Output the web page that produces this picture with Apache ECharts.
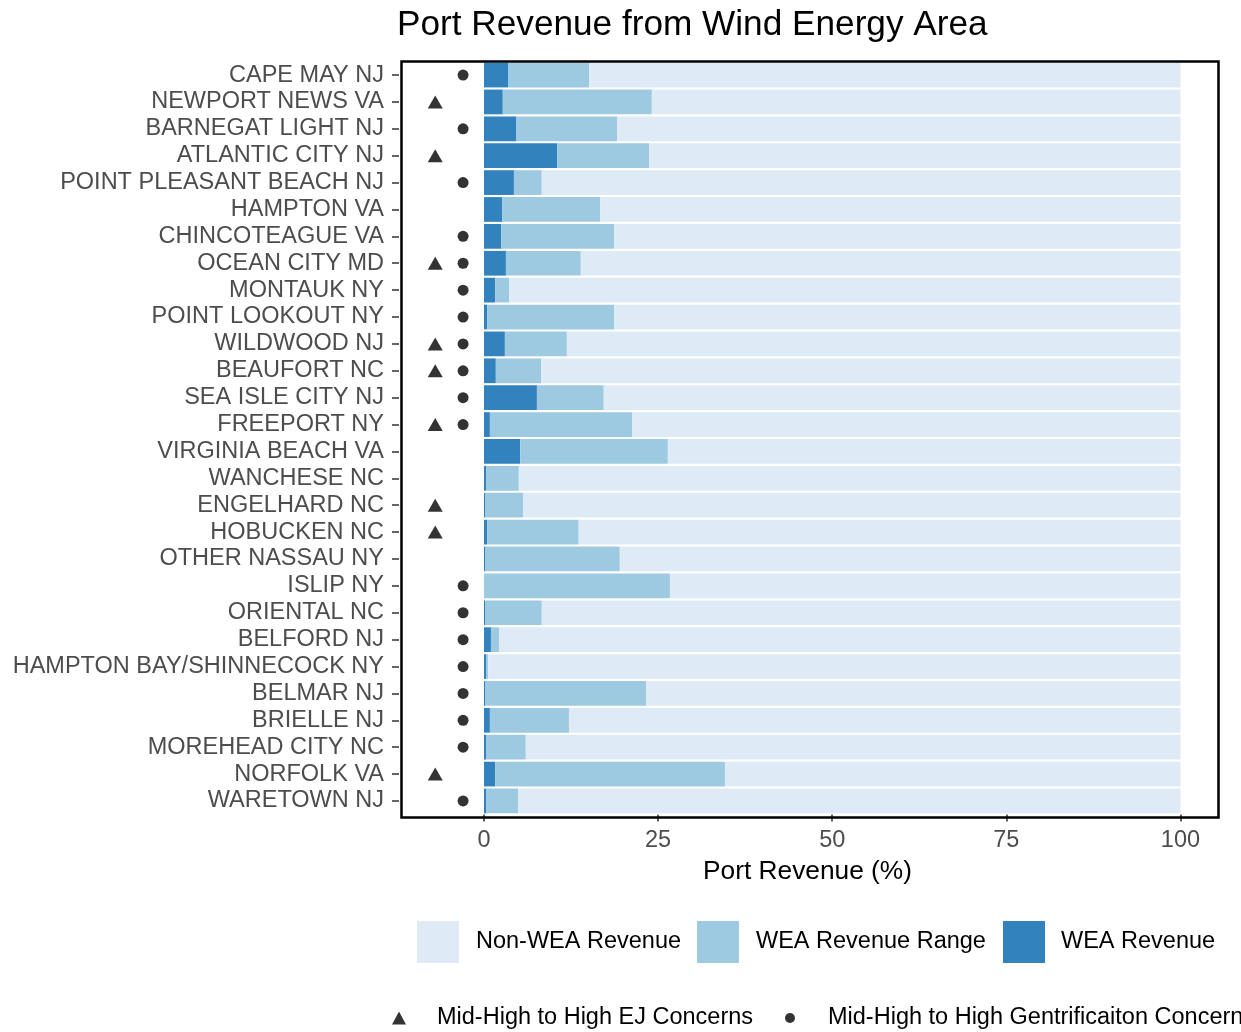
<!DOCTYPE html>
<html>
<head>
<meta charset="utf-8">
<title>Port Revenue from Wind Energy Area</title>
<script src="https://cdn.jsdelivr.net/npm/echarts@6/dist/echarts.min.js"></script>
<style>
  html, body { margin: 0; padding: 0; background: #ffffff; }
  #chart { width: 1241px; height: 1032px; }
</style>
</head>
<body>
<div id="chart"></div>
<script>
// Ports, listed top to bottom
const ports = [
  'CAPE MAY NJ', 'NEWPORT NEWS VA', 'BARNEGAT LIGHT NJ', 'ATLANTIC CITY NJ',
  'POINT PLEASANT BEACH NJ', 'HAMPTON VA', 'CHINCOTEAGUE VA', 'OCEAN CITY MD',
  'MONTAUK NY', 'POINT LOOKOUT NY', 'WILDWOOD NJ', 'BEAUFORT NC',
  'SEA ISLE CITY NJ', 'FREEPORT NY', 'VIRGINIA BEACH VA', 'WANCHESE NC',
  'ENGELHARD NC', 'HOBUCKEN NC', 'OTHER NASSAU NY', 'ISLIP NY',
  'ORIENTAL NC', 'BELFORD NJ', 'HAMPTON BAY/SHINNECOCK NY', 'BELMAR NJ',
  'BRIELLE NJ', 'MOREHEAD CITY NC', 'NORFOLK VA', 'WARETOWN NJ'
];

// WEA revenue share (%) per port
const weaRevenue = [
  3.45, 2.7, 4.6, 10.5,
  4.3, 2.6, 2.45, 3.15,
  1.6, 0.45, 3.0, 1.7,
  7.6, 0.85, 5.2, 0.3,
  0.15, 0.45, 0.15, 0,
  0.15, 1.0, 0.3, 0.15,
  0.85, 0.3, 1.6, 0.3
];

// Upper end of the WEA revenue range (%) per port
const weaRangeHigh = [
  15.1, 24.1, 19.1, 23.7,
  8.3, 16.7, 18.7, 13.9,
  3.6, 18.7, 11.9, 8.2,
  17.2, 21.3, 26.4, 5.0,
  5.6, 13.6, 19.5, 26.7,
  8.3, 2.2, 0.6, 23.3,
  12.2, 6.0, 34.6, 4.9
];

// Ports flagged for community concerns
const ejConcern = [
  'NEWPORT NEWS VA', 'ATLANTIC CITY NJ', 'OCEAN CITY MD', 'WILDWOOD NJ',
  'BEAUFORT NC', 'FREEPORT NY', 'ENGELHARD NC', 'HOBUCKEN NC', 'NORFOLK VA'
];
const gentrificationConcern = [
  'CAPE MAY NJ', 'BARNEGAT LIGHT NJ', 'POINT PLEASANT BEACH NJ', 'CHINCOTEAGUE VA',
  'OCEAN CITY MD', 'MONTAUK NY', 'POINT LOOKOUT NY', 'WILDWOOD NJ', 'BEAUFORT NC',
  'SEA ISLE CITY NJ', 'FREEPORT NY', 'ISLIP NY', 'ORIENTAL NC', 'BELFORD NJ',
  'HAMPTON BAY/SHINNECOCK NY', 'BELMAR NJ', 'BRIELLE NJ', 'MOREHEAD CITY NC',
  'WARETOWN NJ'
];

const xTicks = [0, 25, 50, 75, 100];

// Column positions for the concern markers, left of the bars
const EJ_X = -7;
const GENT_X = -3;

const rangePart = weaRangeHigh.map((v, i) => +(v - weaRevenue[i]).toFixed(2));
const nonWeaPart = weaRangeHigh.map(v => +(100 - v).toFixed(2));

const FONT = '"Liberation Sans", Arial, sans-serif';
const C_DARK = '#3182BD', C_MID = '#9ECAE1', C_LIGHT = '#DEEBF7';

const chart = echarts.init(document.getElementById('chart'), null, { renderer: 'canvas' });

const legendText = { fontFamily: FONT, fontSize: 23.5, color: '#000000' };

function legendItem(name, icon, left, top, w, h, gap) {
  return {
    data: [{ name: name, icon: icon }],
    left: left, top: top, itemWidth: w, itemHeight: h,
    padding: 0,
    selectedMode: false,
    textStyle: Object.assign({ padding: [5, 0, 0, gap] }, legendText)
  };
}

chart.setOption({
  animation: false,
  backgroundColor: '#ffffff',
  title: {
    text: 'Port Revenue from Wind Energy Area',
    left: 397,
    top: 8,
    padding: 0,
    textStyle: { fontFamily: FONT, fontSize: 35.2, fontWeight: 'normal', color: '#000000' }
  },
  grid: { left: 399, right: 25, top: 61.6, bottom: 217.6, containLabel: false },
  xAxis: {
    type: 'value',
    min: -12.2,
    max: 105.1,
    splitLine: { show: false },
    axisLine: { show: false, onZero: false },
    axisTick: { show: true, customValues: xTicks, length: 7, lineStyle: { color: '#333333', width: 1.5 } },
    axisLabel: {
      customValues: xTicks,
      margin: 14,
      fontFamily: FONT, fontSize: 23.5, color: '#4D4D4D'
    },
    name: 'Port Revenue (%)',
    nameLocation: 'middle',
    nameGap: 44,
    nameTextStyle: { fontFamily: FONT, fontSize: 26.3, color: '#000000' }
  },
  yAxis: {
    type: 'category',
    data: ports,
    inverse: true,
    axisLine: { show: false, onZero: false },
    axisTick: { show: true, alignWithLabel: true, length: 7, lineStyle: { color: '#333333', width: 1.5 } },
    axisLabel: { interval: 0, margin: 15, fontFamily: FONT, fontSize: 23.5, color: '#4D4D4D' },
    splitLine: { show: false }
  },
  legend: [
    legendItem('Non-WEA Revenue', 'rect', 417, 921, 42, 42, 12),
    legendItem('WEA Revenue Range', 'rect', 697, 921, 42, 42, 12),
    legendItem('WEA Revenue', 'rect', 1003, 921, 42, 42, 11),
    legendItem('Mid-High to High EJ Concerns', 'triangle', 392, 1006, 14, 13, 26),
    legendItem('Mid-High to High Gentrificaiton Concerns', 'circle', 785, 1006, 10, 10, 28)
  ],
  graphic: [
    {
      type: 'rect',
      left: 399, top: 59,
      shape: { width: 817, height: 756 },
      style: { fill: null, stroke: '#000000', lineWidth: 2.5 },
      z: 100
    }
  ],
  series: [
    {
      name: 'WEA Revenue',
      type: 'bar',
      stack: 'rev',
      barCategoryGap: '8%',
      itemStyle: { color: C_DARK },
      data: weaRevenue
    },
    {
      name: 'WEA Revenue Range',
      type: 'bar',
      stack: 'rev',
      barCategoryGap: '8%',
      itemStyle: { color: C_MID },
      data: rangePart
    },
    {
      name: 'Non-WEA Revenue',
      type: 'bar',
      stack: 'rev',
      barCategoryGap: '8%',
      itemStyle: { color: C_LIGHT },
      data: nonWeaPart
    },
    {
      name: 'Mid-High to High EJ Concerns',
      type: 'scatter',
      symbol: 'triangle',
      symbolSize: [15, 13],
      itemStyle: { color: '#000000' },
      data: ports.filter(p => ejConcern.includes(p)).map(p => [EJ_X, p])
    },
    {
      name: 'Mid-High to High Gentrificaiton Concerns',
      type: 'scatter',
      symbol: 'circle',
      symbolSize: 11,
      itemStyle: { color: '#000000' },
      data: ports.filter(p => gentrificationConcern.includes(p)).map(p => [GENT_X, p])
    }
  ]
});
</script>
</body>
</html>
